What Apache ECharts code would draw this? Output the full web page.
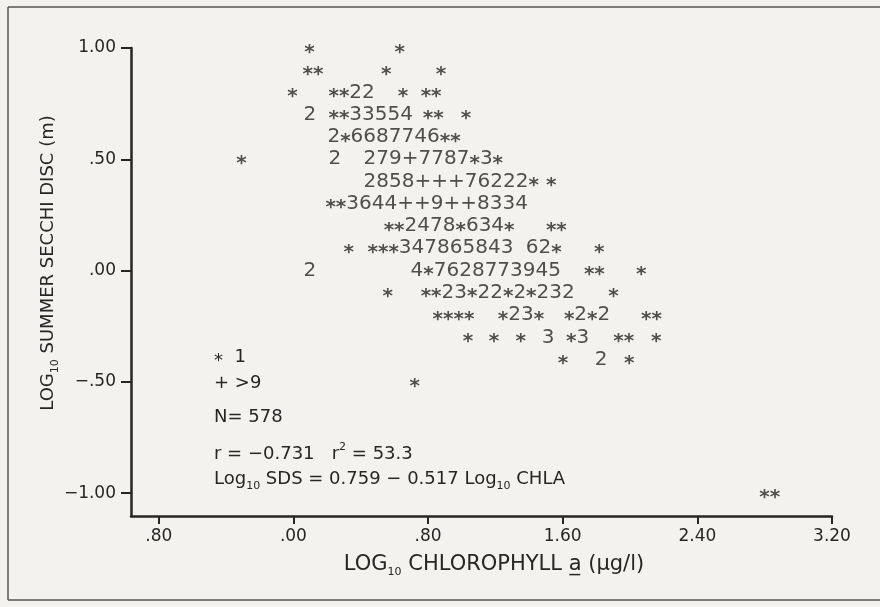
<!DOCTYPE html>
<html><head><meta charset="utf-8">
<script src="https://cdn.jsdelivr.net/npm/echarts@6/dist/echarts.min.js"></script>
<style>html,body{margin:0;padding:0;background:#f3f2ee}#c{width:880px;height:607px}</style>
</head><body><div id="c"></div>
<script>
// Axis ticks
const xTickValues = [-0.8, 0, 0.8, 1.6, 2.4, 3.2];
const xTickLabels = ['.80', '.00', '.80', '1.60', '2.40', '3.20'];
const yTickValues = [-1, -0.5, 0, 0.5, 1];
const yTickLabels = ['\u22121.00', '\u2212.50', '.00', '.50', '1.00'];

// Character-plot runs: row value (log10 SDS), start value (log10 CHLA), printed characters
const runY = [
  1.0, 1.0,
  0.9, 0.9, 0.9,
  0.8, 0.8, 0.8, 0.8,
  0.7, 0.7, 0.7, 0.7,
  0.6,
  0.5, 0.5, 0.5,
  0.4, 0.4,
  0.3,
  0.2, 0.2,
  0.1, 0.1, 0.1, 0.1,
  0.0, 0.0, 0.0, 0.0,
  -0.1, -0.1, -0.1,
  -0.2, -0.2, -0.2, -0.2,
  -0.3, -0.3, -0.3, -0.3, -0.3, -0.3, -0.3,
  -0.4, -0.4, -0.4,
  -0.5,
  -1.0
];
const runX = [
  0.065, 0.60,
  0.054, 0.52, 0.845,
  -0.036, 0.208, 0.62, 0.756,
  0.06, 0.208, 0.768, 0.994,
  0.202,
  -0.34, 0.208, 0.417,
  0.417, 1.5,
  0.19,
  0.536, 1.5,
  0.298, 0.44, 1.38, 1.786,
  0.06, 0.696, 1.726, 2.036,
  0.53, 0.756, 1.87,
  0.827, 1.214, 1.607, 2.065,
  1.006, 1.16, 1.32, 1.476, 1.62, 1.9, 2.125,
  1.571, 1.79, 1.964,
  0.69,
  2.768
];
const runText = [
  '*', '*',
  '**', '*', '*',
  '*', '**22', '*', '**',
  '2', '**33554', '**', '*',
  '2*6687746**',
  '*', '2', '279+7787*3*',
  '2858+++76222*', '*',
  '**3644++9++8334',
  '**2478*634*', '**',
  '*', '***347865843', '62*', '*',
  '2', '4*7628773945', '**', '*',
  '*', '**23*22*2*232', '*',
  '****', '*23*', '*2*2', '**',
  '*', '*', '*', '3', '*3', '**', '*',
  '*', '2', '*',
  '*',
  '**'
];

// Key and statistics
const keyLines = ['{a|*}  1', '+ >9'];
const statLines = [
  'N= 578',
  'r = \u22120.731   r{p|2} = 53.3',
  'Log{s|10} SDS = 0.759 \u2212 0.517 Log{s|10} CHLA'
];
const xTitle = 'LOG{s|10} CHLOROPHYLL a\u0332 (\u03bcg/l)';
const yTitle = 'LOG{s|10} SUMMER SECCHI DISC (m)';

const F = "'DejaVu Sans', 'Noto Sans', sans-serif";
const ink = '#262626';
function tickLabel(values, labels) {
  return v => { const i = values.findIndex(t => Math.abs(t - v) < 1e-6); return i >= 0 ? labels[i] : ''; };
}
const points = runX.map((x, i) => [x, runY[i], runText[i]]);
const subRich = {
  s: { fontFamily: F, fontSize: 11, color: ink, padding: [14, 0, 0, 0] },
  p: { fontFamily: F, fontSize: 11, color: ink, padding: [0, 0, 14, 0] },
  a: { fontFamily: F, fontSize: 18, color: ink, padding: [8, 0, 0, 0] }
};
const ys = [357, 383, 417, 454, 479];
const annLines = keyLines.concat(statLines);

const chart = echarts.init(document.getElementById('c'));
chart.setOption({
  backgroundColor: '#f3f2ee',
  animation: false,
  grid: { left: 131, right: 48, top: 48, bottom: 91 },
  xAxis: {
    type: 'value', min: -0.965, max: 3.2,
    axisLine: { onZero: false, lineStyle: { color: ink, width: 2.5 } },
    axisTick: { customValues: xTickValues, length: 8, lineStyle: { color: ink, width: 2 } },
    axisLabel: { customValues: xTickValues, formatter: tickLabel(xTickValues, xTickLabels),
      fontFamily: F, fontSize: 17, color: ink, margin: 12 },
    splitLine: { show: false }
  },
  yAxis: {
    type: 'value', min: -1.103, max: 1.0,
    axisLine: { onZero: false, lineStyle: { color: ink, width: 2.5 } },
    axisTick: { customValues: yTickValues, length: 10, lineStyle: { color: ink, width: 2 } },
    axisLabel: { customValues: yTickValues, formatter: tickLabel(yTickValues, yTickLabels),
      fontFamily: F, fontSize: 17, color: ink, margin: 15 },
    splitLine: { show: false }
  },
  series: [{
    type: 'scatter', data: points, symbolSize: 0, silent: true,
    label: {
      show: true, position: 'right', distance: 0,
      formatter: p => p.data[2].replace(/\*+/g, m => '{a|' + m + '}'),
      fontFamily: F, fontSize: 20, color: ink,
      rich: { a: { fontFamily: F, fontSize: 20, fontWeight: 'bold', color: ink, padding: [9, 0, 0, 0] } }
    }
  }],
  graphic: [
    { type: 'line', shape: { x1: 8, y1: 7, x2: 880, y2: 7 }, style: { stroke: '#555', lineWidth: 1.5 } },
    { type: 'line', shape: { x1: 8, y1: 7, x2: 8, y2: 600 }, style: { stroke: '#555', lineWidth: 1.5 } },
    { type: 'line', shape: { x1: 8, y1: 600, x2: 880, y2: 600 }, style: { stroke: '#555', lineWidth: 1.5 } },
    { type: 'text', x: 48, y: 263, rotation: Math.PI / 2,
      style: { text: yTitle, fontFamily: F, fontSize: 18, fill: ink, align: 'center', verticalAlign: 'middle', rich: subRich } },
    { type: 'text', x: 494, y: 565,
      style: { text: xTitle, fontFamily: F, fontSize: 21, fill: ink, align: 'center', verticalAlign: 'middle', rich: subRich } }
  ].concat(annLines.map((t, i) => ({
    type: 'text', x: 214, y: ys[i],
    style: { text: t, fontFamily: F, fontSize: 18, fill: ink, align: 'left', verticalAlign: 'middle', rich: subRich }
  })))
});
</script></body></html>
